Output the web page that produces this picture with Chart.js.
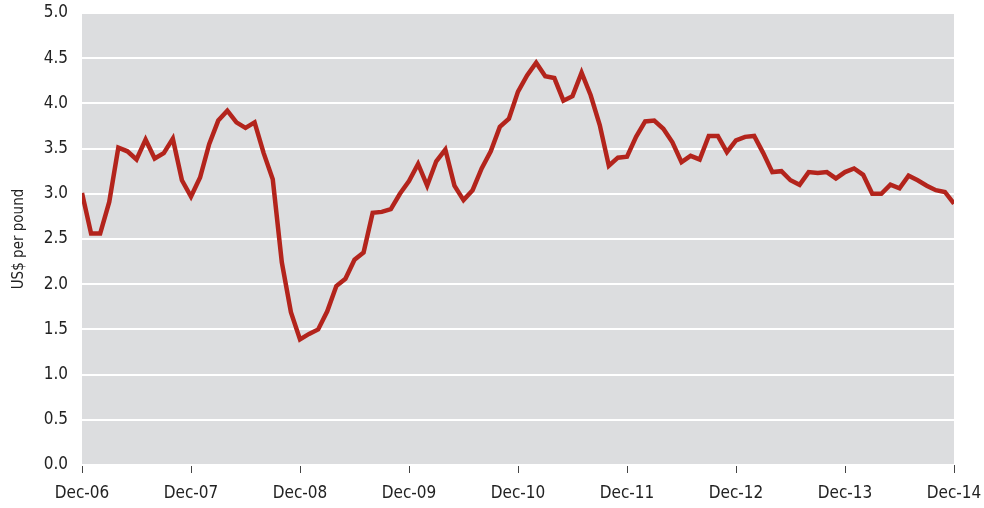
<!DOCTYPE html>
<html>
<head>
<meta charset="utf-8">
<script src="https://cdn.jsdelivr.net/npm/chart.js@4/dist/chart.umd.min.js"></script>
<style>
  html, body { margin: 0; padding: 0; background: #fff; }
  #wrap { width: 984px; height: 508px; }
</style>
</head>
<body>
<div id="wrap"><canvas id="priceChart" width="984" height="508"></canvas></div>
<script>
// monthly prices, Dec-06 .. Dec-14 (97 months)
const prices = [
  3.01, 2.56, 2.56, 2.91, 3.51, 3.47, 3.38, 3.60, 3.39, 3.45,
  3.61, 3.15, 2.97, 3.18, 3.55, 3.81, 3.92, 3.79, 3.73, 3.79,
  3.45, 3.16, 2.24, 1.69, 1.39, 1.45, 1.50, 1.70, 1.98, 2.06,
  2.27, 2.35, 2.79, 2.80, 2.83, 3.00, 3.14, 3.33, 3.09, 3.36,
  3.49, 3.09, 2.93, 3.04, 3.28, 3.47, 3.74, 3.83, 4.13, 4.31,
  4.45, 4.30, 4.28, 4.03, 4.08, 4.34, 4.09, 3.76, 3.31, 3.40,
  3.41, 3.63, 3.80, 3.81, 3.72, 3.57, 3.35, 3.42, 3.38, 3.64,
  3.64, 3.46, 3.59, 3.63, 3.64, 3.45, 3.24, 3.25, 3.15, 3.10,
  3.24, 3.23, 3.24, 3.17, 3.24, 3.28, 3.21, 3.00, 3.00, 3.10,
  3.06, 3.20, 3.15, 3.09, 3.04, 3.02, 2.89
];
const yearLabels = ["Dec-06", "Dec-07", "Dec-08", "Dec-09", "Dec-10", "Dec-11", "Dec-12", "Dec-13", "Dec-14"];
const yTicks = [0, 0.5, 1, 1.5, 2, 2.5, 3, 3.5, 4, 4.5, 5];

const FONT = "'Liberation Sans Narrow', 'DejaVu Sans Condensed', 'Liberation Sans', sans-serif";

const plotBg = {
  id: "plotBg",
  beforeDraw(chart) {
    const { ctx, chartArea: a } = chart;
    ctx.save();
    ctx.fillStyle = "#dcdddf";
    ctx.fillRect(a.left, a.top, a.right - a.left, a.bottom - a.top);
    ctx.restore();
  },
};

new Chart(document.getElementById("priceChart"), {
  type: "line",
  data: {
    datasets: [
      {
        data: prices.map((v, i) => ({ x: i, y: v })),
        borderColor: "#b3241c",
        borderWidth: 4.5,
        pointRadius: 0,
        tension: 0,
        fill: false,
      },
    ],
  },
  options: {
    responsive: false,
    animation: false,
    layout: { padding: { top: 13, right: 30, left: 0, bottom: 0 } },
    plugins: { legend: { display: false }, tooltip: { enabled: false } },
    scales: {
      x: {
        type: "linear",
        min: 0,
        max: 96,
        afterBuildTicks(scale) {
          scale.ticks = yearLabels.map((_, i) => ({ value: i * 12 }));
        },
        ticks: {
          callback: (v) => yearLabels[v / 12],
          color: "#222",
          font: { family: FONT, size: 17 },
          padding: 10,
          maxRotation: 0,
          autoSkip: false,
        },
        grid: { drawOnChartArea: false, drawTicks: true, tickLength: 8, color: "#444", lineWidth: 1 },
        border: { display: false },
        afterFit(scale) {
          scale.height = 43;
          scale.paddingLeft = 0;
          scale.paddingRight = 0;
        },
      },
      y: {
        min: 0,
        max: 5,
        afterBuildTicks(scale) {
          scale.ticks = yTicks.map((v) => ({ value: v }));
        },
        ticks: {
          callback: (v) => v.toFixed(1),
          color: "#222",
          font: { family: FONT, size: 17 },
          padding: 14,
        },
        grid: { color: "#ffffff", lineWidth: 2, drawTicks: false },
        border: { display: false },
        title: {
          display: true,
          text: "US$ per pound",
          color: "#222",
          font: { family: FONT, size: 15 },
          padding: { top: 10, bottom: 4 },
        },
        afterFit(scale) {
          scale.width = 82;
          scale.paddingTop = 0;
          scale.paddingBottom = 0;
        },
      },
    },
  },
  plugins: [plotBg],
});
</script>
</body>
</html>
